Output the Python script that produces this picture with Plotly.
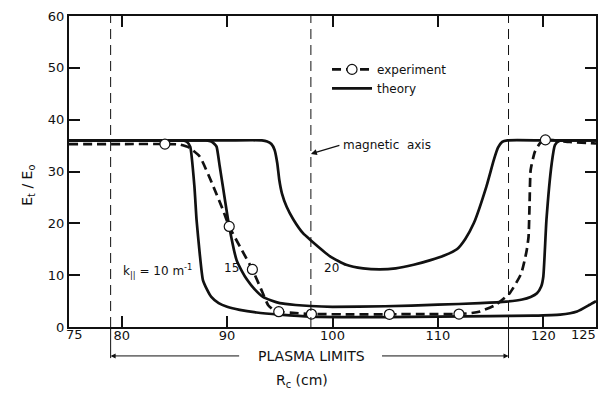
import plotly.graph_objects as go

# ---- data ----
k10_x = [75, 80, 85, 85.8, 86.2, 86.5, 86.9, 87.1, 87.4, 87.7, 88.1, 88.5, 89.2, 90.0, 91.2, 92.8, 95, 98,
         102, 105, 110, 115, 119, 121.6, 123.2, 124.4, 125]
k10_y = [36, 36, 36, 36, 35.7, 34.8, 27.1, 20.7, 14.2, 9.1, 7.2, 5.8, 4.6, 3.9, 3.3, 2.8, 2.4, 2.0,
         1.9, 1.9, 2.0, 2.1, 2.2, 2.4, 3.0, 4.3, 5.0]

k15_x = [75, 80, 85, 88.0, 88.5, 88.8, 89.0, 89.3, 89.6, 90.2, 90.9, 91.4, 91.9, 92.6, 93.4, 94.2, 95.0,
         96.5, 97.9, 100, 105, 110, 114, 116.5, 118.0, 118.8, 119.4, 119.8, 120.0, 120.3, 120.8, 121.1,
         121.5, 122.5, 125]
k15_y = [36, 36, 36, 36, 35.8, 35.3, 34.8, 31, 27.1, 19.4, 12.9, 10.8, 9.1, 7.3, 5.8, 5.1, 4.6,
         4.25, 4.05, 3.9, 4.0, 4.3, 4.6, 4.9, 5.3, 5.8, 6.5, 7.8, 9.7, 20.7, 31.6, 35.1,
         35.9, 36, 36]

k20_x = [75, 80, 85, 90, 93.3, 93.8, 94.2, 94.5, 94.76, 94.95, 95.2, 95.65, 96.3, 97.2, 97.9, 99.8, 101.3,
         102.9, 104.5, 106, 107.7, 109.3, 110.6, 111.8, 112.6, 113.4, 114.6, 115.3, 115.7, 116.1, 116.6,
         120, 125]
k20_y = [36, 36, 36, 36, 36, 35.8, 35.3, 34.2, 31.6, 28.4, 25.8, 23.2, 20.7, 18.1, 16.8, 13.6, 12.0,
         11.3, 11.1, 11.3, 12.0, 12.9, 13.8, 15.0, 17.0, 20.0, 27.1, 32.2, 34.6, 35.7, 36,
         36, 36]

exp_line_x = [75, 80, 84.1, 85.5, 86.4, 87.4, 88.7, 89.6, 90.2, 91.3, 92.4, 93.2, 93.9, 94.4, 94.9, 96.5,
              98.0, 102, 105.4, 109, 112.0, 113.2, 114.0, 115.5, 116.8, 117.9, 118.4, 118.6, 118.7, 118.8,
              119.2, 119.7, 120.2, 122.5, 125]
exp_line_y = [35.3, 35.3, 35.3, 35.2, 34.6, 32.9, 27.1, 22.6, 19.4, 15.2, 11.1, 7.4, 4.2, 3.3, 2.95, 2.7,
              2.5, 2.45, 2.45, 2.5, 2.5, 2.7, 3.0, 4.3, 6.5, 10.3, 14.5, 17.4, 24, 30.3,
              33.8, 35.5, 36.1, 35.7, 35.4]

exp_x = [84.1, 90.2, 92.4, 94.9, 98.0, 105.4, 112.0, 120.2]
exp_y = [35.3, 19.4, 11.1, 2.95, 2.5, 2.45, 2.5, 36.1]

x_ticks = [75, 80, 90, 100, 110, 120, 125]
x_tick_text = ["", "80", "90", "100", "110", "120", ""]   # end labels placed separately below
x_end_labels = ["75", "125"]
y_ticks = [0, 10, 20, 30, 40, 50, 60]

plasma_left = 78.95
plasma_right = 116.7
magnetic_axis = 97.95

curve_labels = ["k<sub>||</sub> = 10 m<sup>-1</sup>", "15", "20"]
curve_label_x = [83.4, 90.4, 99.9]
curve_label_y = [10.9, 11.4, 11.3]

FONT = "DejaVu Sans"
BLACK = "#111111"

fig = go.Figure()

for xs, ys in [(k10_x, k10_y), (k15_x, k15_y), (k20_x, k20_y)]:
    fig.add_trace(go.Scatter(x=xs, y=ys, mode="lines", showlegend=False,
                             line=dict(color=BLACK, width=2.7, shape="spline", smoothing=0.5)))

fig.add_trace(go.Scatter(x=exp_line_x, y=exp_line_y, mode="lines", showlegend=False,
                         line=dict(color=BLACK, width=2.7, dash="9px,5px", shape="spline", smoothing=0.5)))
fig.add_trace(go.Scatter(x=exp_x, y=exp_y, mode="markers", showlegend=False,
                         marker=dict(symbol="circle", size=10, color="white",
                                     line=dict(color=BLACK, width=1.2))))

# legend entries
fig.add_trace(go.Scatter(x=[None], y=[None], mode="lines+markers", name="experiment",
                         line=dict(color=BLACK, width=2.6, dash="9px,5px"),
                         marker=dict(symbol="circle", size=10, color="white",
                                     line=dict(color=BLACK, width=1.2))))
fig.add_trace(go.Scatter(x=[None], y=[None], mode="lines", name="theory",
                         line=dict(color=BLACK, width=2.6)))

shapes = []
for xv, ybot in [(plasma_left, -0.1), (magnetic_axis, 0), (plasma_right, -0.1)]:
    shapes.append(dict(type="line", xref="x", yref="paper", x0=xv, x1=xv, y0=0, y1=1,
                       line=dict(color=BLACK, width=1, dash="10px,6px")))
    if ybot < 0:
        shapes.append(dict(type="line", xref="x", yref="paper", x0=xv, x1=xv, y0=ybot, y1=0,
                           line=dict(color=BLACK, width=1)))

annotations = []
for t, xv, yv in zip(curve_labels, curve_label_x, curve_label_y):
    annotations.append(dict(x=xv, y=yv, xref="x", yref="y", text=t, showarrow=False,
                            xanchor="center", yanchor="middle",
                            font=dict(family=FONT, size=12, color=BLACK)))

# end tick labels of the x axis, nudged inward as in the reference
annotations += [
    dict(x=x_ticks[0], y=-0.024, xref="x", yref="paper", text=x_end_labels[0], showarrow=False,
         xanchor="left", yanchor="middle", xshift=-5, font=dict(family=FONT, size=13, color=BLACK)),
    dict(x=x_ticks[-1], y=-0.024, xref="x", yref="paper", text=x_end_labels[1], showarrow=False,
         xanchor="right", yanchor="middle", xshift=2, font=dict(family=FONT, size=13, color=BLACK)),
]

annotations += [
    dict(x=100.8, y=35.1, xref="x", yref="y", text="magnetic  axis", showarrow=False,
         xanchor="left", yanchor="middle", font=dict(family=FONT, size=12, color=BLACK)),
    dict(x=magnetic_axis, y=33.4, xref="x", yref="y", text="", showarrow=True,
         ax=30, ay=-9, arrowhead=2, arrowsize=1, arrowwidth=1.2, arrowcolor=BLACK),
    dict(x=97.96, y=-0.093, xref="x", yref="paper", text="PLASMA LIMITS", showarrow=False,
         xanchor="center", yanchor="middle", font=dict(family=FONT, size=14, color=BLACK)),
    dict(x=plasma_left, y=-0.093, xref="x", yref="paper", text="", showarrow=True,
         ax=130, ay=0, arrowhead=2, arrowsize=1, arrowwidth=1, arrowcolor=BLACK),
    dict(x=plasma_right, y=-0.093, xref="x", yref="paper", text="", showarrow=True,
         ax=-128, ay=0, arrowhead=2, arrowsize=1, arrowwidth=1, arrowcolor=BLACK),
    dict(x=97.1, y=-0.174, xref="x", yref="paper", text="R<sub>c</sub> (cm)", showarrow=False,
         xanchor="center", yanchor="middle", font=dict(family=FONT, size=14, color=BLACK)),
    dict(x=-0.078, y=0.457, xref="paper", yref="paper", text="E<sub>t</sub> / E<sub>o</sub>",
         xanchor="center", yanchor="middle",
         showarrow=False, textangle=-90, font=dict(family=FONT, size=14, color=BLACK)),
]

axis_common = dict(showline=True, linewidth=2, linecolor=BLACK, mirror="ticks",
                   ticks="inside", ticklen=11, tickwidth=1.5, tickcolor=BLACK,
                   showgrid=False, zeroline=False, automargin=False,
                   tickfont=dict(family=FONT, size=13, color=BLACK))

fig.update_layout(
    width=610, height=395,
    margin=dict(l=69, r=14, t=16, b=68),
    paper_bgcolor="white", plot_bgcolor="white",
    xaxis=dict(range=[75, 125], tickmode="array", tickvals=x_ticks, ticktext=x_tick_text,
               ticklabelstandoff=-5, **axis_common),
    yaxis=dict(range=[0, 60], tickmode="array", tickvals=y_ticks, **axis_common),
    shapes=shapes, annotations=annotations,
    legend=dict(x=0.4896, y=0.875, xanchor="left", yanchor="top", bgcolor="rgba(0,0,0,0)",
                itemwidth=40, font=dict(family=FONT, size=12, color=BLACK), tracegroupgap=0),
    showlegend=True,
)

fig.write_html("out.html")
